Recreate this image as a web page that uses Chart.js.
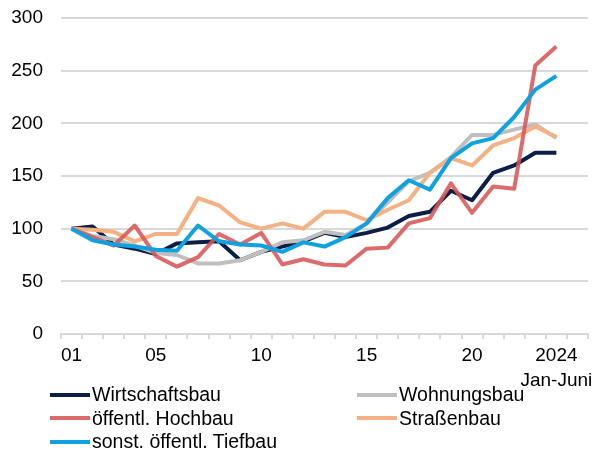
<!DOCTYPE html>
<html>
<head>
<meta charset="utf-8">
<script src="https://cdn.jsdelivr.net/npm/chart.js@4"></script>
<style>
    html, body { margin: 0; padding: 0; background: #fff; }
    .wrap { position: relative; width: 601px; height: 452px; font-family: 'Liberation Sans', Arial, sans-serif; }
    #legend { position: absolute; left: 50px; top: 383px; display: grid; grid-template-columns: 307px auto; }
    .item { display: flex; align-items: center; height: 23.5px; font-size: 19.5px; color: #000; }
    .swatch { width: 40px; height: 4px; margin-right: 2px; }
</style>
</head>
<body>
<div class="wrap">
    <canvas id="chart" width="601" height="452"></canvas>
    <div id="legend"></div>
</div>
<script>
// Index 2001 = 100, 2024 = Jan-Juni
const years = ['01','02','03','04','05','06','07','08','09','10','11','12',
               '13','14','15','16','17','18','19','20','21','22','23','2024'];
const shownTicks = ['01', '05', '10', '15', '20', '2024'];

const wirtschaftsbau = [100,102,85,81,76,86,87,88,70,78,83,88,96,92,96,101,112,116,136,127,153,160,172,172];
const wohnungsbau    = [100,93,90,84,77,75,67,67,70,78,87,89,97,94,105,125,145,153,168,189,189,194,199,186];
const hochbau        = [100,92,84,103,74,64,73,95,85,96,66,71,66,65,81,82,105,110,143,115,140,138,255,273];
const strassenbau    = [100,99,97,88,95,95,129,122,106,100,105,100,116,116,108,118,127,153,167,160,179,186,197,187];
const tiefbau        = [100,89,85,83,80,79,103,88,85,84,78,87,83,92,105,129,146,137,167,181,186,206,232,245];

// one empty slot after 2024, like the original axis
const labels = years.concat(['']);

const series = [
    { label: 'Wirtschaftsbau', data: wirtschaftsbau, color: '#0c1e46', order: 5 },
    { label: 'Wohnungsbau', data: wohnungsbau, color: '#bfbfbf', order: 4 },
    { label: 'öffentl. Hochbau', data: hochbau, color: 'rgba(216,86,86,0.88)', order: 2 },
    { label: 'Straßenbau', data: strassenbau, color: '#f5b184', order: 3 },
    { label: 'sonst. öffentl. Tiefbau', data: tiefbau, color: '#0fa1e0', order: 1 }
];

const font = { family: "'Liberation Sans', Arial, sans-serif", size: 19 };

new Chart(document.getElementById('chart'), {
    type: 'line',
    data: {
        labels: labels,
        datasets: series.map(s => ({
            label: s.label,
            data: s.data,
            borderColor: s.color,
            backgroundColor: s.color,
            borderWidth: 4,
            pointRadius: 0,
            tension: 0,
            borderJoinStyle: 'round',
            order: s.order
        }))
    },
    options: {
        responsive: false,
        animation: false,
        layout: { padding: { top: 18, right: 13, bottom: 60, left: 0 } },
        plugins: { legend: { display: false }, tooltip: { enabled: false } },
        scales: {
            x: {
                offset: true,
                grid: { offset: true, drawOnChartArea: false, drawTicks: true, tickLength: 5, color: '#d9d9d9', lineWidth: 2 },
                border: { color: '#d9d9d9', width: 2 },
                ticks: {
                    autoSkip: false,
                    maxRotation: 0,
                    padding: 4,
                    color: '#000',
                    font: { family: font.family, size: 19, lineHeight: 1.32 },
                    callback: function(val) {
                        const l = this.getLabelForValue(val);
                        if (!shownTicks.includes(l)) return '';
                        return l === '2024' ? ['2024', 'Jan-Juni'] : l;
                    }
                },
                afterFit: scale => { scale.height = 58; }
            },
            y: {
                min: 0,
                max: 300,
                grid: { drawTicks: true, tickLength: 18, tickColor: 'rgba(0,0,0,0)', color: '#d9d9d9', lineWidth: 2 },
                border: { display: false },
                ticks: { stepSize: 50, padding: 0, color: '#000', font: font },
                afterFit: scale => { scale.width = 61; }
            }
        }
    }
});

const legend = document.getElementById('legend');
legend.innerHTML = series.map(s => `
    <div class="item"><span class="swatch" style="background:${s.color}"></span><span>${s.label}</span></div>
`).join('');
</script>
</body>
</html>
